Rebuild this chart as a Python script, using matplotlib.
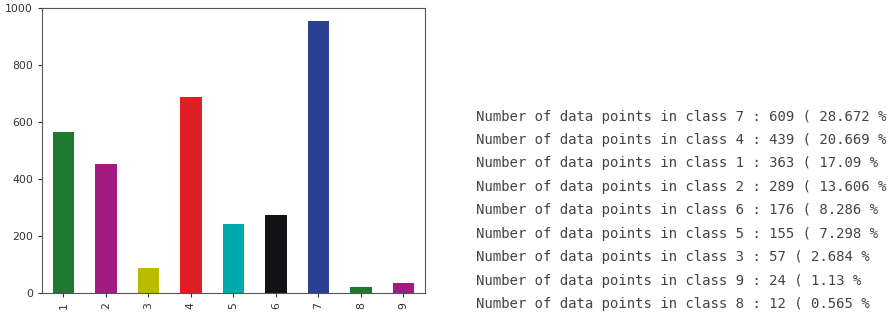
import matplotlib
matplotlib.use("Agg")
import matplotlib.pyplot as plt

# class counts for the bar plot
classes = ["1", "2", "3", "4", "5", "6", "7", "8", "9"]
counts = [566, 453, 87, 687, 241, 274, 955, 20, 34]
bar_colors = ["#1f7a2e", "#a21b80", "#b9bc00", "#e01f22", "#00a9aa",
              "#111116", "#2a4193", "#1f7a2e", "#a21b80"]

# sorted per-class summary printed next to the plot
sorted_classes = [7, 4, 1, 2, 6, 5, 3, 9, 8]
sorted_counts = [609, 439, 363, 289, 176, 155, 57, 24, 12]
sorted_pcts = ["28.672", "20.669", "17.09", "13.606", "8.286",
               "7.298", "2.684", "1.13", "0.565"]

fig = plt.figure(figsize=(8.96, 3.24), dpi=100)
ax = fig.add_axes([0.047, 0.0957, 0.427, 0.879])

x = range(len(classes))
ax.bar(x, counts, width=0.5, color=bar_colors)
ax.set_xlim(-0.5, len(classes) - 0.5)
ax.set_ylim(0, 1000)
ax.set_xticks(list(x))
ax.set_xticklabels(classes, rotation=90)
ax.set_yticks(range(0, 1001, 200))
ax.tick_params(labelsize=7.8, colors="#333333", length=3)
for s in ax.spines.values():
    s.set_color("#555555")

# summary lines
y0 = 324 - 116.7
step = 23.4
for i, (c, n, p) in enumerate(zip(sorted_classes, sorted_counts, sorted_pcts)):
    line = f"Number of data points in class {c} : {n} ( {p} %"
    fig.text(476 / 896, (y0 - i * step) / 324, line, family="DejaVu Sans Mono",
             fontsize=10.1, color="#444444", va="center", ha="left")

fig.savefig("out.png", dpi=100)
